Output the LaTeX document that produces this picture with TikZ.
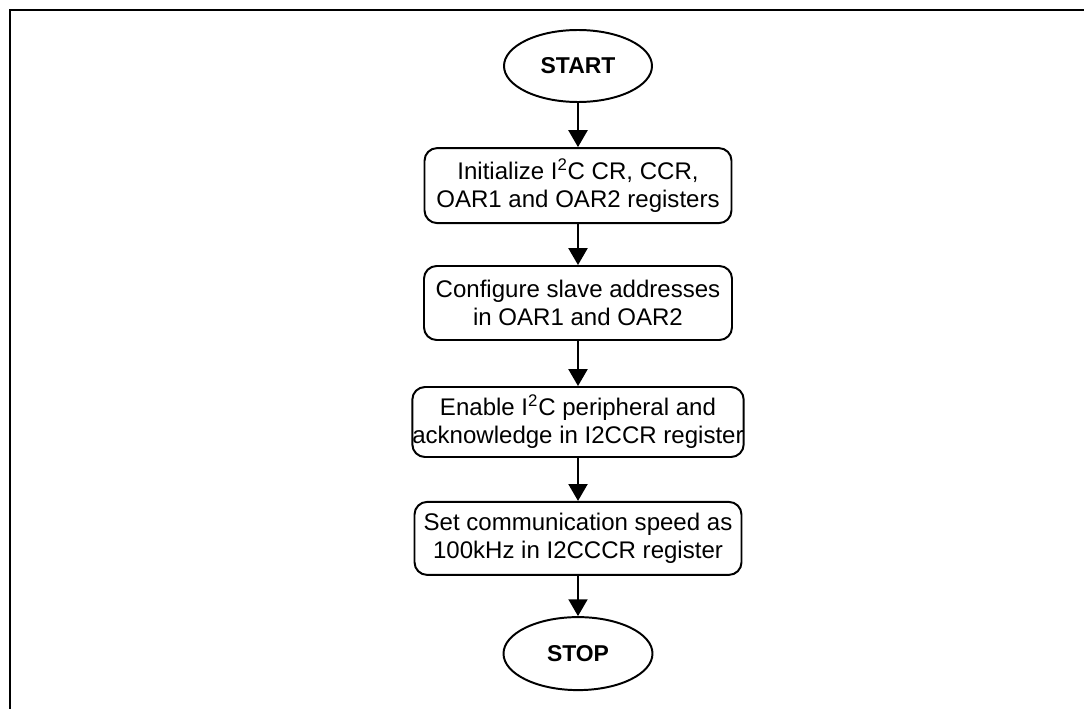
\documentclass[tikz,border=0pt]{standalone}
\usepackage{fontspec}
\setmainfont{Liberation Sans}
\usepackage{tikz}
\usetikzlibrary{arrows.meta, positioning, shapes}

\begin{document}
\begin{tikzpicture}[
      box/.style={draw, rounded corners=9pt, line width=1.4pt, inner sep=0pt, minimum width=7.7cm, minimum height=1.85cm, align=center, font=\fontsize{17.1pt}{19.9pt}\selectfont},
      term/.style={draw, ellipse, line width=1.4pt, inner sep=0pt, minimum width=3.7cm, minimum height=1.8cm, font=\fontsize{16.3pt}{19pt}\selectfont\bfseries},
      arr/.style={-{Triangle[length=12pt, width=13.5pt]}, line width=1.5pt}
    ]
      \useasboundingbox (0,0) rectangle (27.1,-17.725);

      % Frame
      \draw[line width=1.5pt] (27.3,-0.25) -- (0.25,-0.25) -- (0.25,-17.9);

      % Start
      \node[term] (start) at (14.45,-1.65) {START};

      % Step 1
      \node[box, minimum width=7.675cm, minimum height=1.875cm] (init) at (14.45,-4.64) {Initialize I\textsuperscript{2}C CR, CCR,\\OAR1 and OAR2 registers};

      % Step 2
      \node[box] (slave) at (14.45,-7.575) {Configure slave addresses\\in OAR1 and OAR2};

      % Step 3
      \node[box, minimum width=8.275cm, minimum height=1.75cm] (enable) at (14.45,-10.55) {Enable I\textsuperscript{2}C peripheral and\\acknowledge in I2CCR register};

      % Step 4
      \node[box, minimum width=8.175cm, minimum height=1.825cm] (speed) at (14.45,-13.46) {Set communication speed as\\100kHz in I2CCCR register};

      % Stop
      \node[term, minimum width=3.725cm, minimum height=1.825cm] (stop) at (14.45,-16.34) {STOP};

      % Arrows
      \draw[arr] (start) -- (init);
      \draw[arr] (init) -- (slave);
      \draw[arr] (slave) -- (enable);
      \draw[arr] (enable) -- (speed);
      \draw[arr] (speed) -- (stop);
    \end{tikzpicture}
\end{document}
